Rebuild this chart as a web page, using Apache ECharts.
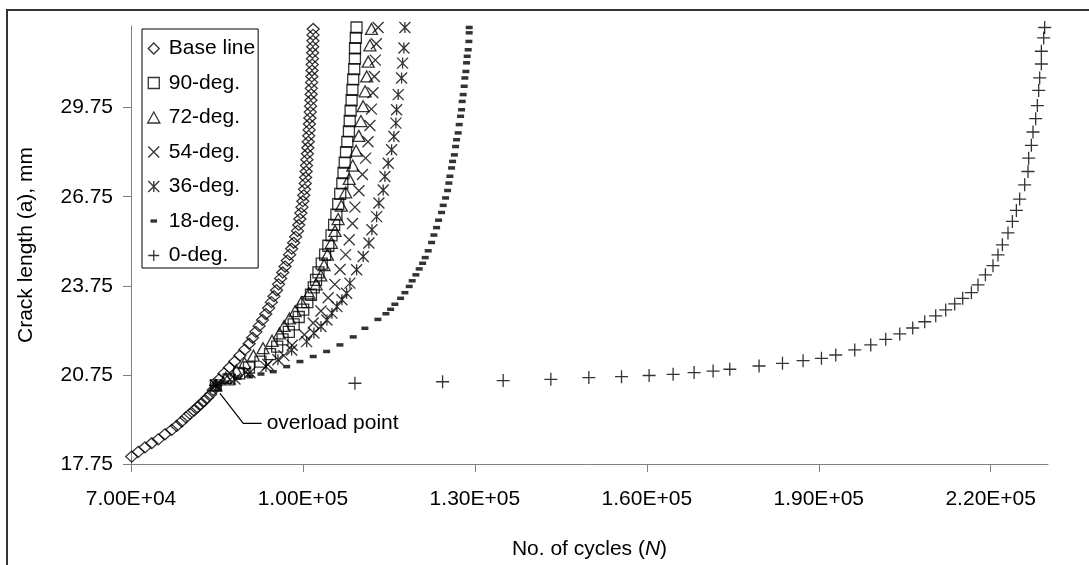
<!DOCTYPE html>
<html>
<head>
<meta charset="utf-8">
<title>Crack length vs cycles</title>
<script src="https://cdn.jsdelivr.net/npm/echarts@6/dist/echarts.min.js"></script>
<style>
  html, body { margin: 0; padding: 0; background: #fff; }
  #chart { width: 1089px; height: 565px; }
</style>
</head>
<body>
<div id="chart"></div>
<script>
// tick labels
const xTicks = [70000, 100000, 130000, 160000, 190000, 220000];
const yTicks = [17.75, 20.75, 23.75, 26.75, 29.75];

const names = ['Base line', '90-deg.', '72-deg.', '54-deg.', '36-deg.', '18-deg.', '0-deg.'];

// Base line (diamonds)
const baseN = [70122, 71273, 72442, 73610, 74762, 75930, 77099, 77971, 78843, 79593, 80291, 80988, 81564, 82157, 82733, 83308, 83901, 84355,
  84800, 85384, 86238, 87181, 88105, 88994, 89849, 90617, 91209, 91785, 92361, 92936, 93512, 94018, 94489, 94942, 95396, 95744, 96111, 96477,
  96878, 97279, 97680, 98029, 98378, 98727, 99058, 99268, 99460, 99634, 99826, 99983, 100140, 100279, 100401, 100471, 100558, 100628, 100698,
  100785, 100855, 100925, 101012, 101082, 101134, 101204, 101274, 101326, 101396, 101430, 101465, 101517, 101552, 101587, 101622, 101657,
  101692, 101709, 101744, 101761, 101796];
const baseA = [18.00, 18.16, 18.31, 18.45, 18.58, 18.75, 18.90, 19.03, 19.18, 19.32, 19.44, 19.55, 19.66, 19.76, 19.87, 19.98, 20.10, 20.24,
  20.4, 20.6, 20.8, 21.0, 21.2, 21.4, 21.6, 21.8, 22.0, 22.2, 22.4, 22.6, 22.8, 23.0, 23.2, 23.4, 23.6, 23.8, 24.0, 24.2,
  24.4, 24.6, 24.8, 25.0, 25.2, 25.4, 25.6, 25.8, 26.0, 26.2, 26.4, 26.6, 26.8, 27.0, 27.2, 27.4, 27.6, 27.8, 28.0,
  28.2, 28.4, 28.6, 28.8, 29.0, 29.2, 29.4, 29.6, 29.8, 30.0, 30.2, 30.4, 30.6, 30.8, 31.0, 31.2, 31.4,
  31.6, 31.8, 32.0, 32.2, 32.4];

// 90-deg (squares)
const deg90N = [84800, 87024, 88872, 90582, 92587, 94262, 95500, 96442, 97541, 98378, 99268, 100053, 100768, 101396, 101884, 102285, 102704,
  103279, 103872, 104431, 104989, 105442, 105843, 106157, 106506, 106872, 107082, 107291, 107518, 107744, 108024, 108163, 108320, 108494,
  108634, 108774, 108948, 109070, 109088, 109227, 109349];
const deg90A = [20.4, 20.6, 20.8, 21.0, 21.2, 21.45, 21.7, 21.95, 22.2, 22.45, 22.7, 22.95, 23.2, 23.45, 23.7, 23.95, 24.2,
  24.5, 24.8, 25.1, 25.45, 25.8, 26.15, 26.5, 26.85, 27.2, 27.55, 27.9, 28.25, 28.6, 28.95, 29.3, 29.65, 30.0,
  30.35, 30.7, 31.05, 31.4, 31.75, 32.1, 32.45];

// 72-deg (triangles)
const deg72N = [84800, 86535, 88366, 89814, 91366, 93041, 94611, 95901, 96721, 97646, 98640, 99721, 101064, 102303, 103122, 103681, 104274,
  104971, 105599, 106140, 106698, 107448, 108076, 108686, 109279, 109750, 110117, 110500, 110849, 111128, 111390, 111686, 111965];
const deg72A = [20.4, 20.65, 20.9, 21.15, 21.4, 21.65, 21.9, 22.15, 22.4, 22.65, 22.9, 23.2, 23.5, 23.8, 24.1, 24.45, 24.8,
  25.2, 25.6, 26.0, 26.45, 26.9, 27.35, 27.8, 28.3, 28.8, 29.3, 29.8, 30.3, 30.8, 31.3, 31.85, 32.4];

// 54-deg (x)
const deg54N = [84800, 87303, 90023, 93878, 96669, 98116, 100262, 101779, 103140, 104396, 105564, 106471, 107448, 108076, 108651, 109070,
  109768, 110378, 110936, 111355, 111686, 111948, 112210, 112471, 112628, 112803, 113117];
const deg54A = [20.4, 20.6, 20.85, 21.1, 21.4, 21.75, 22.1, 22.5, 22.9, 23.35, 23.8, 24.3, 24.8, 25.3, 25.85, 26.4,
  26.95, 27.5, 28.05, 28.6, 29.15, 29.7, 30.25, 30.8, 31.35, 31.9, 32.45];

// 36-deg (asterisk)
const deg36N = [84800, 88140, 90756, 93547, 95640, 98029, 100646, 101919, 103140, 104186, 105058, 105931, 106803, 107623, 108198, 109367,
  110518, 111512, 112035, 112855, 113256, 114006, 114303, 114878, 115471, 115872, 116221, 116343, 116622, 117215, 117390, 117617, 117791];
const deg36A = [20.4, 20.61, 20.83, 21.03, 21.26, 21.59, 21.87, 22.16, 22.38, 22.6, 22.83, 23.05, 23.28, 23.5, 23.84, 24.29,
  24.74, 25.19, 25.64, 26.08, 26.54, 26.98, 27.43, 27.88, 28.33, 28.78, 29.23, 29.68, 30.19, 30.75, 31.25, 31.76, 32.45];

// 18-deg (dash)
const deg18N = [84800, 86570, 88715, 90756, 92675, 94820, 97157, 99477, 101797, 104134, 106454, 108774, 110814, 113082, 114477, 115297,
  116047, 117041, 117791, 118541, 119064, 119710, 120285, 120878, 121332, 121855, 122448, 122849, 123320, 123669, 124192, 124471, 124890,
  125239, 125466, 125640, 125936, 126111, 126425, 126634, 126809, 127088, 127262, 127506, 127681, 127785, 127960, 128134, 128256, 128431,
  128553, 128658, 128832, 128955, 129007, 129007];
const deg18A = [20.4, 20.51, 20.64, 20.69, 20.78, 20.86, 21.03, 21.2, 21.37, 21.54, 21.76, 22.03, 22.32, 22.62, 22.81, 22.96,
  23.13, 23.33, 23.52, 23.73, 23.92, 24.12, 24.32, 24.51, 24.7, 24.93, 25.21, 25.46, 25.71, 25.96, 26.22, 26.46, 26.71,
  26.96, 27.21, 27.44, 27.72, 27.94, 28.16, 28.44, 28.67, 28.9, 29.18, 29.46, 29.68, 29.96, 30.19, 30.47, 30.75, 30.97,
  31.26, 31.48, 31.7, 31.98, 32.27, 32.45];

// 0-deg (plus)
const deg0N = [84800, 109070, 124366, 134937, 143256, 149884, 155588, 160402, 164588, 168251, 171565, 174478, 179588, 183670, 187263,
  190472, 192966, 196280, 199071, 201687, 204129, 206396, 208489, 210408, 212152, 213722, 215117, 216635, 217786, 219077, 220402, 221274,
  222042, 223019, 223786, 224484, 225059, 225931, 226507, 226629, 227100, 227379, 227850, 228147, 228373, 228548, 228844, 228844, 229245, 229420];
const deg0A = [20.4, 20.47, 20.52, 20.56, 20.6, 20.66, 20.69, 20.73, 20.77, 20.83, 20.88, 20.94, 21.05, 21.14, 21.23,
  21.31, 21.42, 21.59, 21.76, 21.95, 22.13, 22.33, 22.54, 22.74, 22.94, 23.14, 23.33, 23.52, 23.78, 24.12, 24.43, 24.79,
  25.13, 25.53, 25.92, 26.29, 26.67, 27.15, 27.6, 28.05, 28.48, 28.93, 29.38, 29.82, 30.33, 30.75, 31.22, 31.65, 32.1, 32.45];

// leader line of the "overload point" note
const noteN = [85523, 89587, 92797];
const noteA = [20.13, 19.12, 19.12];

const FONT = '"Liberation Sans", Arial, sans-serif';
// marker shapes (path symbols keep their aspect inside the legend box)
const diamondPath = 'path://M5,0L10,5L5,10L0,5Z';
const squarePath = 'path://M0,0L10,0L10,10L0,10Z';
const trianglePath = 'path://M5,0L10,9L0,9Z';
const crossPath = 'path://M0,0L10,10M10,0L0,10';
const plusPath = 'path://M5,0L5,10M0,5L10,5';
const starPath = 'path://M0,0L10,10M10,0L0,10M5,0L5,10';
const dashIcon = 'path://M0,0M10,10M2,3.5L8,3.5L8,6.5L2,6.5Z';

function zip(xs, ys) {
  return xs.map((x, i) => [x, ys[i]]);
}

const hollow = { color: 'transparent', borderColor: '#000', borderWidth: 1.3 };

const seriesDefs = [
  { name: names[0], data: zip(baseN, baseA), symbol: 'diamond', symbolSize: [12, 11], itemStyle: hollow, icon: diamondPath },
  { name: names[1], data: zip(deg90N, deg90A), symbol: 'rect', symbolSize: 11, itemStyle: hollow, icon: squarePath },
  { name: names[2], data: zip(deg72N, deg72A), symbol: 'triangle', symbolSize: [12, 11], itemStyle: hollow, icon: trianglePath },
  { name: names[3], data: zip(deg54N, deg54A), symbol: crossPath, symbolSize: 11, itemStyle: hollow, icon: crossPath },
  { name: names[4], data: zip(deg36N, deg36A), symbol: starPath, symbolSize: 11, itemStyle: hollow, icon: starPath },
  { name: names[5], data: zip(deg18N, deg18A), symbol: 'rect', symbolSize: [7, 3.5], itemStyle: { color: '#000' }, icon: dashIcon },
  { name: names[6], data: zip(deg0N, deg0A), symbol: plusPath, symbolSize: 13, itemStyle: hollow, icon: plusPath }
];

function sci(v) {
  const e = Math.floor(Math.log10(v));
  const m = v / Math.pow(10, e);
  return m.toFixed(2) + 'E+' + String(e).padStart(2, '0');
}

const chart = echarts.init(document.getElementById('chart'));

const series = seriesDefs.map(s => ({
  name: s.name,
  type: 'scatter',
  data: s.data,
  symbol: s.symbol,
  symbolSize: s.symbolSize,
  itemStyle: s.itemStyle,
  clip: false,
  silent: true
}));

series.push({
  name: 'note',
  type: 'line',
  data: zip(noteN, noteA),
  symbol: 'none',
  silent: true,
  clip: false,
  lineStyle: { color: '#000', width: 1.2 },
  endLabel: {
    show: true,
    formatter: 'overload point',
    color: '#000',
    fontSize: 21,
    fontFamily: FONT,
    distance: 5
  }
});

chart.setOption({
  animation: false,
  backgroundColor: '#fff',
  textStyle: { fontFamily: FONT, color: '#000' },
  graphic: [{
    type: 'rect',
    silent: true,
    z: -10,
    shape: { x: 7, y: 10, width: 1200, height: 700 },
    style: { fill: 'none', stroke: '#333', lineWidth: 2 }
  }],
  grid: { left: 131, right: 41, top: 26, bottom: 101 },
  legend: {
    orient: 'vertical',
    left: 142,
    top: 29,
    itemWidth: 20,
    itemHeight: 11,
    itemGap: 13.5,
    padding: [9, 3, 2, 5],
    borderColor: '#000',
    borderWidth: 1,
    backgroundColor: '#fff',
    textStyle: { fontSize: 21, color: '#000', fontFamily: FONT },
    data: seriesDefs.map(s => ({ name: s.name, icon: s.icon, itemStyle: s.itemStyle }))
  },
  xAxis: {
    type: 'value',
    min: 70000,
    max: 230000,
    name: 'No. of cycles ({i|N})',
    nameLocation: 'middle',
    nameGap: 75,
    nameTextStyle: {
      fontSize: 21, color: '#000', fontFamily: FONT,
      rich: { i: { fontSize: 21, fontStyle: 'italic', fontFamily: FONT, color: '#000' } }
    },
    axisLine: { lineStyle: { color: '#808080', width: 1 } },
    axisTick: { show: true, length: 8, lineStyle: { color: '#808080' }, customValues: xTicks },
    axisLabel: { fontSize: 21, color: '#000', margin: 25, formatter: sci, customValues: xTicks },
    splitLine: { show: false }
  },
  yAxis: {
    type: 'value',
    min: 17.75,
    max: 32.5,
    name: 'Crack length (a), mm',
    nameLocation: 'middle',
    nameGap: 94,
    nameTextStyle: { fontSize: 21, color: '#000', fontFamily: FONT },
    axisLine: { show: true, lineStyle: { color: '#808080', width: 1 } },
    axisTick: { show: true, length: 8, lineStyle: { color: '#808080' }, customValues: yTicks },
    axisLabel: { fontSize: 21, color: '#000', margin: 18, formatter: v => v.toFixed(2), customValues: yTicks },
    splitLine: { show: false }
  },
  series: series
});
</script>
</body>
</html>
